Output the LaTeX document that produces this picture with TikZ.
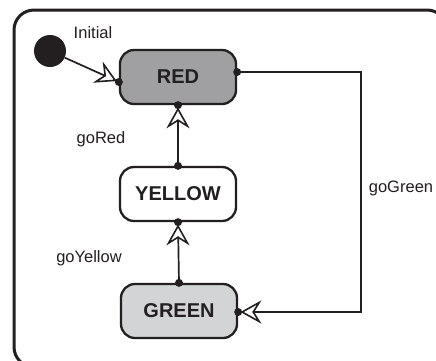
\documentclass[tikz,border=0pt]{standalone}
\usepackage{fontspec}
\setmainfont{Liberation Sans}
\usetikzlibrary{calc}
\definecolor{redfill}{RGB}{160,160,163}
\definecolor{greenfill}{RGB}{211,212,214}
\definecolor{ink}{RGB}{35,31,32}
\begin{document}
\begin{tikzpicture}[x=1pt,y=-1pt,
  statebox/.style={draw=ink, line width=2.3pt, rounded corners=14pt,
    minimum width=116pt, minimum height=54pt, inner sep=0pt,
    font=\fontsize{20}{24}\selectfont\bfseries, text=ink},
  lbl/.style={font=\fontsize{16.5}{19}\selectfont, text=ink, inner sep=0pt},
  trans/.style={draw=ink, line width=1.7pt},
  pin/.style={fill=ink, circle, inner sep=0pt, minimum size=8pt},
  ahead/.pic={\draw[ink, line width=1.6pt, fill=white, line join=miter, miter limit=4]
     (0,0) -- (-17,-9.5) .. controls (-13,-3) .. (-11,0) .. controls (-13,3) .. (-17,9.5) -- cycle;}]
\useasboundingbox (0,0) rectangle (436,360);
\fill[white] (0,0) rectangle (436,360);
\begin{scope}
\clip (0,0) rectangle (436,360);
\draw[ink, line width=3pt, rounded corners=20pt] (14,10) rectangle (447,367);
\end{scope}
% nodes
\node[circle, fill=ink, minimum size=32pt, inner sep=0pt] (init) at (50,51) {};
\node[statebox, fill=redfill] (red) at (178,77) {RED};
\node[statebox, fill=white] (yellow) at (178,194) {YELLOW};
\node[statebox, fill=greenfill] (green) at (179,311) {GREEN};
% anchor coordinates
\coordinate (redW) at ([yshift=-5pt]red.west);
\coordinate (redE) at ([yshift=5pt]red.east);
\coordinate (redS) at (red.south);
\coordinate (yelN) at (yellow.north);
\coordinate (yelS) at (yellow.south);
\coordinate (grnN) at (green.north);
\coordinate (grnE) at ([yshift=-1pt]green.east);
\coordinate (c1) at (361,72);
\coordinate (c2) at (361,312);
% connectors
\draw[trans] (init) -- (redW);
\draw[trans] (yelN) -- (redS);
\draw[trans] (grnN) -- (yelS);
\draw[draw=ink, line width=1.3pt] (redE) -- (c1) -- (c2) -- (grnE);
% arrowheads
\pic[rotate=-25.2] at ($(redW)!4pt!(init)$) {ahead};
\pic[rotate=90] at ([yshift=-4pt]redS) {ahead};
\pic[rotate=90] at ([yshift=-4pt]yelS) {ahead};
\pic[rotate=180] at ([xshift=4pt]grnE) {ahead};
% pins
\node[pin] at (redW) {};
\node[pin] at (redE) {};
\node[pin] at (redS) {};
\node[pin] at (yelN) {};
\node[pin] at (yelS) {};
\node[pin] at (grnN) {};
\node[pin] at (grnE) {};
% labels
\node[lbl] (linit) at (93,33) {Initial};
\node[lbl] (lred) at (101,139) {goRed};
\node[lbl] (lyel) at (89,258) {goYellow};
\node[lbl] (lgrn) at (401,188) {goGreen};
\end{tikzpicture}
\end{document}
